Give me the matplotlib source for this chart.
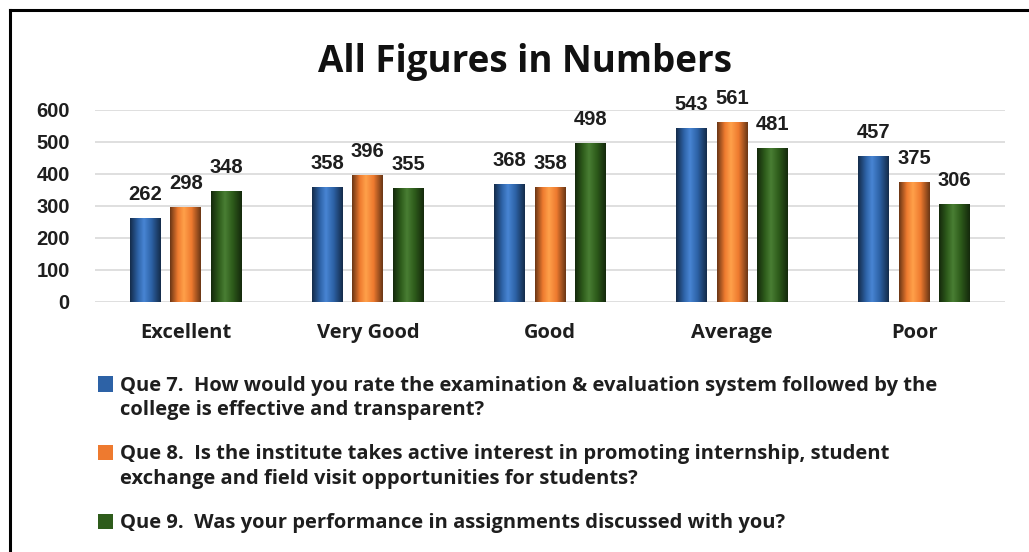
import matplotlib

matplotlib.use("Agg")
import matplotlib.pyplot as plt
import numpy as np
from matplotlib.colors import LinearSegmentedColormap, to_rgb
from matplotlib.legend_handler import HandlerPatch
from matplotlib.lines import Line2D
from matplotlib.patches import Rectangle

categories = ["Excellent", "Very Good", "Good", "Average", "Poor"]
que7 = [262, 358, 368, 543, 457]
que8 = [298, 396, 358, 561, 375]
que9 = [348, 355, 498, 481, 306]
series_labels = [
    "Que 7.  How would you rate the examination & evaluation system followed by the\n"
    "college is effective and transparent?",
    "Que 8.  Is the institute takes active interest in promoting internship, student\n"
    "exchange and field visit opportunities for students?",
    "Que 9.  Was your performance in assignments discussed with you?",
]
yticks = [0, 100, 200, 300, 400, 500, 600]

colours = ["#2D62A6", "#EE7A2F", "#2E5C1B"]

TEXT = "#1e1e1e"
fig = plt.figure(figsize=(10.29, 5.52), dpi=100)
ax = fig.add_axes([0.092, 0.453, 0.885, 0.348])

x = np.arange(len(categories))
width = 0.17
offset = 0.222
bars = []
for k, vals in enumerate([que7, que8, que9]):
    base = np.array(to_rgb(colours[k]))
    dark = base * 0.45
    light = np.clip(base * 1.15 + 0.08, 0, 1)
    cmap = LinearSegmentedColormap.from_list(
        f"cyl{k}", [(0, dark), (0.25, base), (0.45, light), (0.7, base), (1, dark)]
    )
    b = ax.bar(
        x + (k - 1) * offset,
        vals,
        width,
        color=colours[k],
        edgecolor="none",
        zorder=3,
    )
    bars.append(b)
    grad = np.linspace(0, 1, 64).reshape(1, -1)
    for rect, v in zip(b, vals):
        x0 = rect.get_x()
        im = ax.imshow(
            grad,
            cmap=cmap,
            aspect="auto",
            extent=(x0, x0 + rect.get_width(), 0, v),
            zorder=3.5,
            interpolation="bilinear",
        )
        im.set_clip_path(rect)
        ax.annotate(
            f"{v}",
            (x0 + rect.get_width() / 2, v),
            xytext=(0, 10),
            textcoords="offset points",
            ha="center",
            va="bottom",
            fontsize=14.5,
            fontweight="bold",
            family="Liberation Sans",
            color=TEXT,
            annotation_clip=False,
        )

ax.set_xlim(-0.5, 4.5)
ax.set_ylim(0, 600)
ax.tick_params(axis="both", length=0, colors=TEXT)
ax.tick_params(axis="x", pad=15)
ax.tick_params(axis="y", pad=18)
ax.set_yticks(yticks)
ax.set_yticklabels([str(t) for t in yticks], fontsize=14.5, fontweight="bold", family="Liberation Sans")
ax.set_xticks(x)
ax.set_xticklabels(categories, fontsize=14.5, fontweight="bold", family="Open Sans")
ax.grid(True, axis="y", color="#d9d9d9", linewidth=1.2, zorder=0)
for s in ax.spines.values():
    s.set_visible(False)

fig.text(0.51, 0.888, "All Figures in Numbers", ha="center", va="center",
         fontsize=26.5, fontweight="bold", family="Open Sans", color="#111111")

# legend squares aligned with the first line of each entry
nlines = {bars[i].patches[0]: series_labels[i].count("\n") for i in range(3)}


def square(legend, orig_handle, xdescent, ydescent, width, height, fontsize):
    shift = nlines.get(orig_handle, 0) * fontsize * 0.72
    s = 0.75 * fontsize
    return Rectangle((-xdescent, -ydescent + (height - s) / 2 + shift), s, s)


handles = [b.patches[0] for b in bars]
leg = fig.legend(
    handles,
    series_labels,
    loc="upper left",
    bbox_to_anchor=(0.078, 0.352),
    frameon=False,
    prop={"family": "Open Sans", "weight": "bold", "size": 14.5},
    handlelength=0.75,
    handletextpad=0.3,
    labelspacing=1.2,
    handler_map={h: HandlerPatch(patch_func=square) for h in handles},
)
for t in leg.get_texts():
    t.set_linespacing(1.3)
    t.set_color(TEXT)

# outer frame (top and left edges)
fig.add_artist(Line2D([0.01, 1.0], [0.982, 0.982], color="black", linewidth=2.2, transform=fig.transFigure))
fig.add_artist(Line2D([0.01, 0.01], [0.0, 0.982], color="black", linewidth=2.2, transform=fig.transFigure))

fig.savefig("out.png", dpi=100)
